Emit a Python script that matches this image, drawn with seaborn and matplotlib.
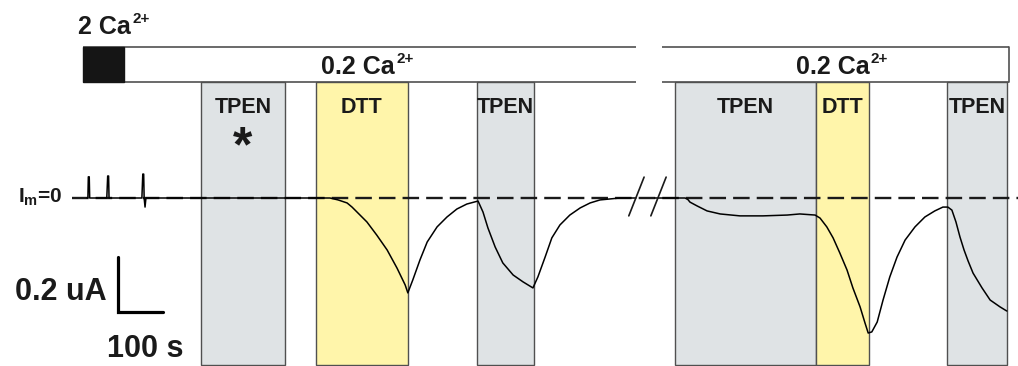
import numpy as np
import pandas as pd
import matplotlib
matplotlib.use("Agg")
import matplotlib.pyplot as plt
from matplotlib.patches import Rectangle
import seaborn as sns

sns.set_theme(style="white")
plt.rcParams["font.family"] = ["Liberation Sans", "DejaVu Sans"]
plt.rcParams["mathtext.fontset"] = "custom"
plt.rcParams["mathtext.rm"] = "Liberation Sans:bold"
plt.rcParams["mathtext.bf"] = "Liberation Sans:bold"
plt.rcParams["mathtext.it"] = "Liberation Sans:bold"
plt.rcParams["mathtext.default"] = "bf"

# ---------------- data (time in s, current in nA) ----------------
band_labels = ["TPEN", "DTT", "TPEN", "TPEN", "DTT", "TPEN"]
band_start = [253, 509, 867, 1307, 1620, 1911]
band_end = [440, 713, 993, 1620, 1738, 2044]
band_kind = ["tpen", "dtt", "tpen", "tpen", "dtt", "tpen"]

# segment before the break
trace1_t = [0, 2, 3, 5, 6, 44, 46, 48, 49, 122, 124, 126, 127, 129, 131,
            540, 558, 578, 589, 600, 622, 644, 667, 689, 707, 713, 724, 740, 756,
            778, 800, 822, 844, 869, 880, 891, 907, 924, 947, 969, 991, 1002,
            1018, 1033, 1051, 1073, 1096, 1118, 1140, 1184, 1220]
trace1_i = [0, 0, 77, 77, 0, 0, 80, 80, 0, 0, 87, 87, 0, -33, 0,
            0, -7, -18, -33, -51, -87, -135, -189, -255, -316, -345, -298, -225, -160,
            -105, -69, -40, -22, -11, -51, -109, -178, -236, -280, -305, -327, -287,
            -215, -145, -98, -62, -36, -18, -7, 0, 0]

# segment after the break
trace2_t = [1262, 1329, 1335, 1340, 1356, 1378, 1407, 1451, 1502, 1556, 1584, 1618,
            1629, 1644, 1658, 1673, 1689, 1702, 1718, 1729, 1736, 1744, 1756,
            1769, 1784, 1800, 1818, 1840, 1862, 1884, 1902, 1913, 1922, 1931,
            1940, 1949, 1958, 1969, 1989, 2007, 2029, 2044]
trace2_i = [0, 0, -5, -15, -29, -47, -58, -65, -65, -62, -58, -62,
            -73, -105, -145, -200, -262, -327, -396, -455, -491, -487, -451,
            -371, -287, -215, -153, -105, -69, -47, -33, -33, -44, -87,
            -142, -189, -229, -273, -327, -371, -396, -411]

# solution bars
bar1_span = (-9, 1220)
bar1_black = (-9, 82)
bar2_span = (1278, 2049)
solution_labels = ["2 Ca", "0.2 Ca", "0.2 Ca"]
solution_sup = "2+"

scale_time = 100   # s
scale_cur = 200    # nA

# ---------------- figure ----------------
fig = plt.figure(figsize=(10.18, 3.66), dpi=100)
ax = fig.add_axes([0, 0, 1, 1])
ax.set_xlim(-193.3, 2068.9)
ax.set_ylim(-610.9, 720)
ax.set_axis_off()

band_top, band_bot = 422, -607
bar_top = 549
col = {"tpen": "#dfe3e5", "dtt": "#fff5aa"}
edge = "#505050"
ink = "#1a1a1a"

for lab, s, e, k in zip(band_labels, band_start, band_end, band_kind):
    ax.add_patch(Rectangle((s, band_bot), e - s, band_top - band_bot,
                           facecolor=col[k], edgecolor=edge, lw=1.0, zorder=1))
    ax.text((s + e) / 2, 309, lab, ha="center", va="baseline",
            fontsize=15.5, fontweight="bold", color=ink, zorder=5)

# asterisk under first TPEN
ax.text((band_start[0] + band_end[0]) / 2, 180, "*", ha="center", va="center",
        fontsize=36, fontweight="bold", color=ink, zorder=5)

# solution bars
for (a, b) in [bar1_span, bar2_span]:
    ax.plot([a, b], [bar_top, bar_top], color=edge, lw=1.2, zorder=3, solid_capstyle="butt")
    ax.plot([a, b], [band_top, band_top], color=edge, lw=1.2, zorder=3, solid_capstyle="butt")
ax.plot([bar2_span[1], bar2_span[1]], [band_top, bar_top], color=edge, lw=1.2, zorder=3)
ax.add_patch(Rectangle((bar1_black[0], band_top), bar1_black[1] - bar1_black[0],
                       bar_top - band_top, facecolor="#151515", edgecolor="#151515", zorder=4))


def label_with_sup(x, y, main, ha):
    t = ax.text(x, y, main, ha=ha, va="baseline", fontsize=18,
                fontweight="bold", color=ink)
    ax.annotate(solution_sup, xy=(1, 1), xycoords=t, xytext=(1, 2.5),
                textcoords="offset points", ha="left", va="top",
                fontsize=11, fontweight="bold", color=ink)


label_with_sup(-20, 596, solution_labels[0], "left")
label_with_sup(602, 451, solution_labels[1], "center")
label_with_sup(1657, 451, solution_labels[2], "center")

# zero-current dashed line
ax.plot([-33, 2070], [0, 0], color=ink, lw=1.7, dashes=(7, 3), zorder=6)
ax.text(-153, -18, "$I_{m}$=0", ha="left", va="baseline",
        fontsize=15, fontweight="bold", color=ink)

# trace
d1 = pd.DataFrame({"t": trace1_t, "i": trace1_i})
d2 = pd.DataFrame({"t": trace2_t, "i": trace2_i})
for d in (d1, d2):
    sns.lineplot(data=d, x="t", y="i", sort=False, estimator=None,
                 color="black", lw=1.1, ax=ax, zorder=7)

# break marks
for x0 in (1204, 1253):
    ax.plot([x0, x0 + 34], [-65, 76], color=ink, lw=1.2, zorder=8)

# scale bar
sx, sy = 69, -415
ax.plot([sx, sx, sx + scale_time], [sy + scale_cur, sy, sy],
        color="black", lw=2.3, solid_joinstyle="miter", zorder=8)
ax.text(sx - 25, -371, "0.2 uA", ha="right", va="baseline",
        fontsize=22, fontweight="bold", color=ink)
ax.text(45, -578, "100 s", ha="left", va="baseline",
        fontsize=22, fontweight="bold", color=ink)

fig.savefig("out.png", dpi=100)
